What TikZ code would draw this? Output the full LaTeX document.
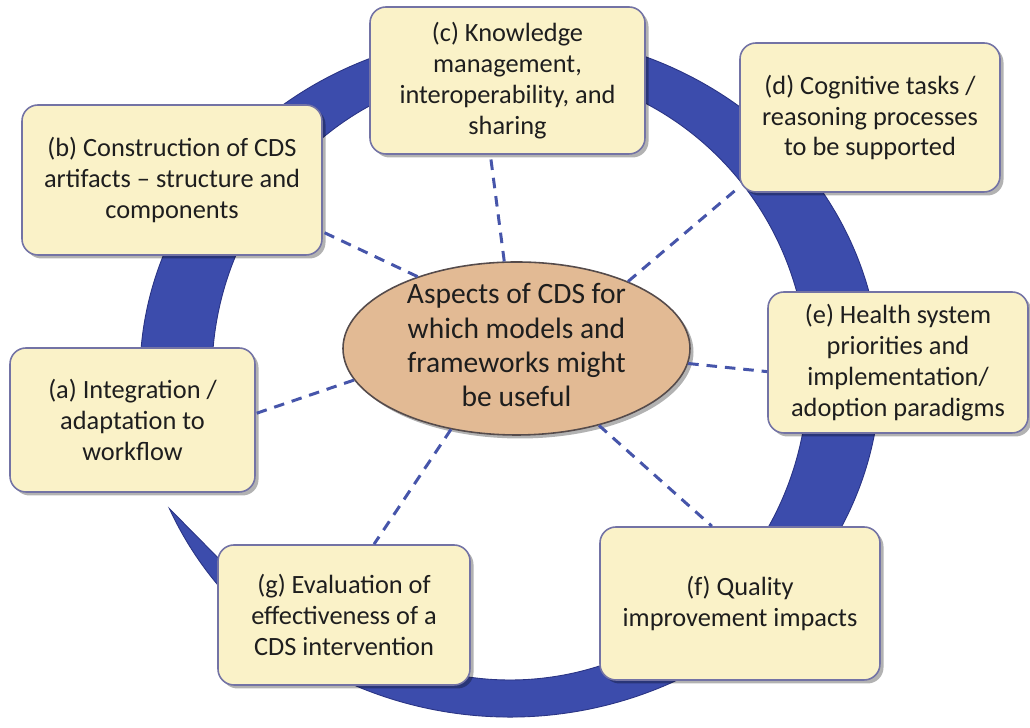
\documentclass[tikz,border=0pt]{standalone}
\usepackage{fontspec}
\setmainfont{Carlito}
\usetikzlibrary{shadows,shapes.geometric}
\definecolor{ringblue}{RGB}{60,76,172}
\definecolor{ringedge}{RGB}{42,52,132}
\definecolor{boxfill}{RGB}{250,242,200}
\definecolor{boxedge}{RGB}{115,115,165}
\definecolor{ellfill}{RGB}{226,186,148}
\definecolor{elledge}{RGB}{85,75,75}
\definecolor{dashblue}{RGB}{70,85,170}
\definecolor{txt}{RGB}{30,30,30}
\begin{document}
\begin{tikzpicture}[
  aspect/.style={rectangle, rounded corners=0.32cm, fill=boxfill, draw=boxedge, line width=0.9pt,
    align=center, text=txt, font=\fontsize{15}{17.6}\selectfont, inner sep=0pt,
    drop shadow={shadow xshift=0.07cm, shadow yshift=-0.07cm, fill=black, opacity=0.3}},
  hub/.style={ellipse, fill=ellfill, draw=elledge, line width=0.9pt, text=txt,
    font=\fontsize{16.8}{19.4}\selectfont, inner sep=0pt,
    minimum width=6.94cm, minimum height=3.46cm,
    drop shadow={shadow xshift=0.07cm, shadow yshift=-0.07cm, fill=black, opacity=0.3}},
  link/.style={draw=dashblue, line width=1.7pt, dash pattern=on 6pt off 4.5pt},
  band/.style={fill=ringblue, draw=ringedge, line width=0.5pt}
]
\useasboundingbox (0,0) rectangle (20.6,14.56);
\coordinate (C) at (10.2,7.06);
% circular arrow band
\draw[band] ([shift={(C)}]203:7.4 and 6.84)
  arc[start angle=203, end angle=546, x radius=7.4cm, y radius=6.84cm]
  -- ([shift={(C)}]186:8.0 and 7.44)
  -- ([shift={(C)}]200:6.68 and 6.47)
  -- ([shift={(C)}]186:5.36 and 5.5)
  -- ([shift={(C)}]186:5.96 and 6.1)
  arc[start angle=546, end angle=222, x radius=5.96cm, y radius=6.1cm]
  -- (4.7,3.06) -- cycle;

% nodes
\node[aspect, minimum width=6.0cm, minimum height=3.0cm] (b) at (3.44,10.96)
  {(b) Construction of CDS\\artifacts -- structure and\\components};
\node[aspect, minimum width=5.5cm, minimum height=2.94cm] (c) at (10.15,12.95)
  {(c) Knowledge\\management,\\interoperability, and\\sharing};
\node[aspect, minimum width=5.2cm, minimum height=2.98cm] (d) at (17.4,12.21)
  {(d) Cognitive tasks /\\reasoning processes\\to be supported};
\node[aspect, minimum width=5.2cm, minimum height=2.82cm] (e) at (17.96,7.31)
  {(e) Health system\\priorities and\\implementation/\\adoption paradigms};
\node[aspect, minimum width=5.6cm, minimum height=3.06cm] (f) at (14.8,2.49)
  {(f) Quality\\improvement impacts};
\node[aspect, minimum width=5.04cm, minimum height=2.8cm] (g) at (6.88,2.26)
  {(g) Evaluation of\\effectiveness of a\\CDS intervention};
\node[aspect, minimum width=4.9cm, minimum height=2.88cm] (a) at (2.65,6.16)
  {(a) Integration /\\adaptation to\\workflow};
\node[hub] (hub) at (10.33,7.59)
  {\smash{\raisebox{-0.25em}{\begin{tabular}{@{}c@{}}Aspects of CDS for\\which models and\\frameworks might\\be useful\end{tabular}}}};

% dashed links
\draw[link] (hub.144) -- (b.-19.5);
\draw[link] (hub.98) -- (c.257.7);
\draw[link] (hub.31.8) -- (d.208.7);
\draw[link] (hub.-5.2) -- (e.184.2);
\draw[link] (hub.-43.8) -- (f.110.1);
\draw[link] (hub.231) -- (g.67.5);
\draw[link] (hub.191) -- (a.3.3);
\end{tikzpicture}
\end{document}
